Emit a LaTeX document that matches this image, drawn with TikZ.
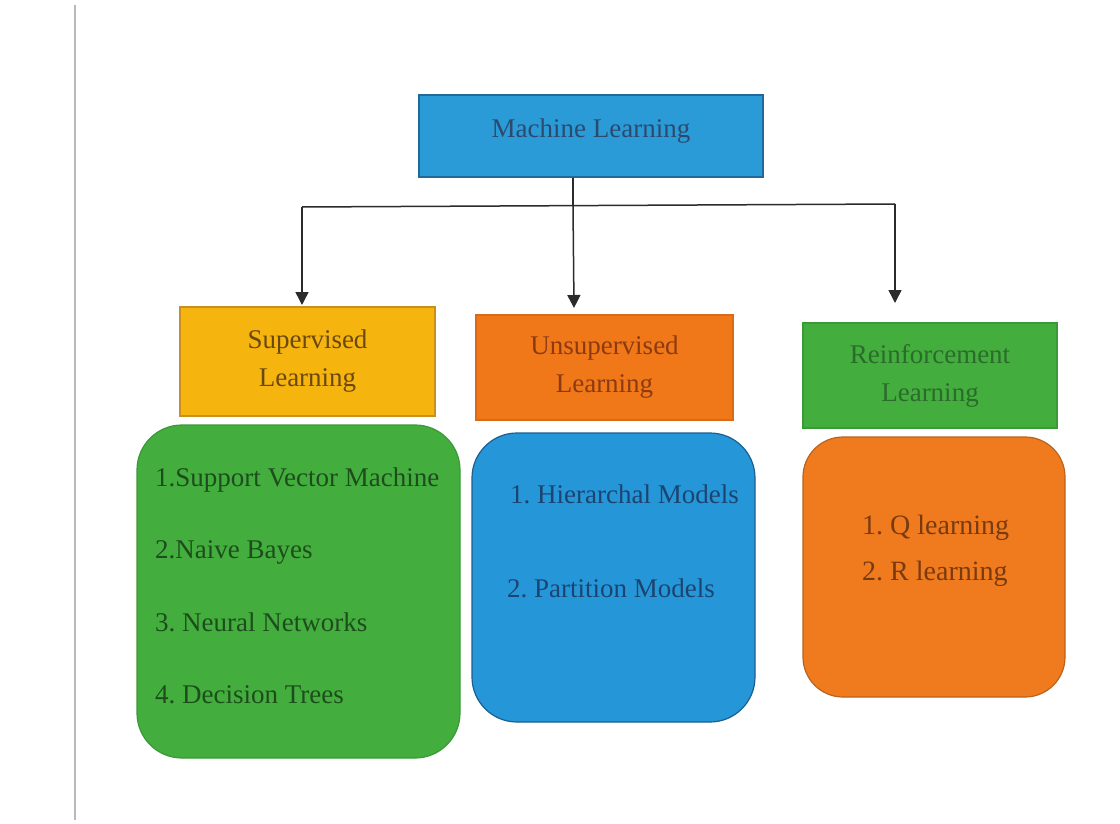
\documentclass[tikz,border=0pt]{standalone}
\usepackage{fontspec}
\setmainfont{Liberation Serif}
\usepackage{tikz}
\usetikzlibrary{arrows.meta,positioning}
\frenchspacing

\definecolor{mlblue}{HTML}{2A9BD7}
\definecolor{mlborder}{HTML}{1F6A99}
\definecolor{mltext}{HTML}{2C4A6E}
\definecolor{supyellow}{HTML}{F6B40E}
\definecolor{supborder}{HTML}{C9901F}
\definecolor{suptext}{HTML}{6B4810}
\definecolor{unsorange}{HTML}{F07818}
\definecolor{unsborder}{HTML}{D86A18}
\definecolor{unstext}{HTML}{8B3A12}
\definecolor{reigreen}{HTML}{43AD3D}
\definecolor{reiborder}{HTML}{3A9A36}
\definecolor{reitext}{HTML}{2B6B2B}
\definecolor{listgreen}{HTML}{43AD3D}
\definecolor{listgreentext}{HTML}{1D4D1D}
\definecolor{listblue}{HTML}{2597D8}
\definecolor{listblueborder}{HTML}{1C5F90}
\definecolor{listbluetext}{HTML}{1C4470}
\definecolor{listorange}{HTML}{F07A1E}
\definecolor{listorangeborder}{HTML}{B8641E}
\definecolor{listorangetext}{HTML}{7A3A10}
\definecolor{linegray}{HTML}{2B2B2B}

\begin{document}
\begin{tikzpicture}[
x=1pt,y=-1pt,
mlbox/.style={draw=mlborder,fill=mlblue,line width=1.5pt,text=mltext,
  font=\fontsize{27}{32}\selectfont,minimum width=344pt,minimum height=82pt,
  text depth=16pt,inner sep=0pt},
catbox/.style={line width=1.5pt,align=center,
  font=\fontsize{27}{38}\selectfont,minimum height=105pt,inner sep=0pt},
listbox/.style={line width=1.2pt,rounded corners=45pt,inner sep=0pt},
item/.style={anchor=base west,inner sep=0pt,font=\fontsize{27}{32}\selectfont},
conn/.style={line width=1.5pt,draw=linegray},
oneway/.style={conn,-{Triangle[length=13pt,width=13pt]}}]

    % Page and margin line
    \fill[white] (0,0) rectangle (1120,824);
    \useasboundingbox (0,0) rectangle (1120,824);
    \draw[gray!55,line width=1.5pt] (75,5) -- (75,820);

    % Root
    \node[mlbox] (ml) at (591,136) {Machine Learning};

    % Categories
    \node[catbox,draw=supborder,fill=supyellow,text=suptext,minimum width=255pt,minimum height=109pt]
        (sup) at (307.5,361.5) {Supervised\\Learning};
    \node[catbox,draw=unsborder,fill=unsorange,text=unstext,minimum width=257pt]
        (uns) at (604.5,367.5) {Unsupervised\\Learning};
    \node[catbox,draw=reiborder,fill=reigreen,text=reitext,minimum width=254pt]
        (rei) at (930,375.5) {Reinforcement\\Learning};

    % Branches
    \coordinate (split) at (573,206);
    \coordinate (hleft) at (302,207);
    \coordinate (hright) at (895,204);
    \coordinate (supin) at (302,305);
    \coordinate (unsin) at (574,308);
    \coordinate (reiin) at (895,303);

    \draw[conn] (ml.south -| split) -- (split);
    \draw[conn] (hleft) -- (hright);
    \draw[oneway] (hleft) -- (supin);
    \draw[oneway] (split) -- (unsin);
    \draw[oneway] (hright) -- (reiin);

    % Lists
    \node[listbox,draw=reiborder,fill=listgreen,minimum width=323pt,minimum height=333pt]
        (suplist) at (298.5,591.5) {};
    \node[listbox,draw=listblueborder,fill=listblue,minimum width=283pt,minimum height=289pt]
        (unslist) at (613.5,577.5) {};
    \node[listbox,rounded corners=40pt,draw=listorangeborder,fill=listorange,minimum width=262pt,minimum height=260pt]
        (reilist) at (934,567) {};

    \node[item,text=listgreentext] (svm) at (155,486) {1.Support Vector Machine};
    \node[item,text=listgreentext] (nb) at (155,558) {2.Naive Bayes};
    \node[item,text=listgreentext] (nn) at (155,631) {3. Neural Networks};
    \node[item,text=listgreentext] (dt) at (155,703) {4. Decision Trees};

    \node[item,text=listbluetext] (hm) at (510,503) {1. Hierarchal Models};
    \node[item,text=listbluetext] (pm) at (507,597) {2. Partition Models};

    \node[item,text=listorangetext,font=\fontsize{28}{32}\selectfont] (ql) at (862,534) {1. Q learning};
    \node[item,text=listorangetext,font=\fontsize{28}{32}\selectfont] (rl) at (862,580) {2. R learning};

\end{tikzpicture}
\end{document}
